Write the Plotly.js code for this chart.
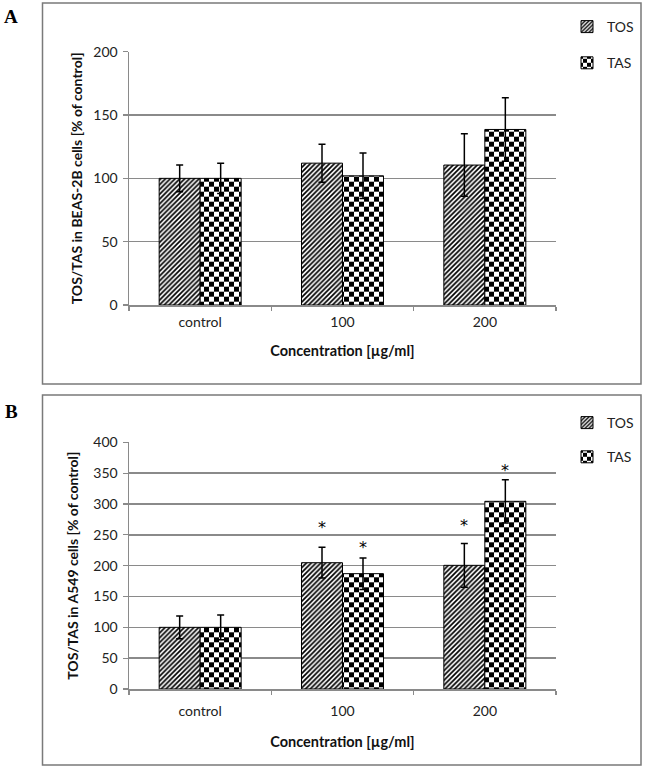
<!DOCTYPE html>
<html><head><meta charset="utf-8">
<script src="https://cdn.plot.ly/plotly-3.0.1.min.js"></script>
<style>html,body{margin:0;padding:0;background:#fff}#chart{width:646px;height:770px}</style>
</head><body><div id="chart"></div>
<script>
// ---- data ----
const categories = ['control', '100', '200'];
const seriesNames = ['TOS', 'TAS'];
// Panel A: BEAS-2B cells
const A_TOS = [100, 112, 110.5];
const A_TOS_err = [10.5, 15, 24.7];
const A_TAS = [100, 102, 138.6];
const A_TAS_err = [12, 18, 25];
// Panel B: A549 cells
const B_TOS = [100, 204.8, 200.5];
const B_TOS_err = [18.5, 25, 35.5];
const B_TAS = [100, 187, 304.3];
const B_TAS_err = [20, 25.5, 35];
// asterisk positions (value units) in panel B
const B_TOS_star = [null, 271, 275];
const B_TAS_star = [null, 238.8, 364];
const yTicksA = [0, 50, 100, 150, 200];
const yTicksB = [0, 50, 100, 150, 200, 250, 300, 350, 400];
const titleA = 'TOS/TAS in BEAS-2B cells [% of control]';
const titleB = 'TOS/TAS in A549 cells [% of control]';
const xTitle = 'Concentration [µg/ml]';

// ---- layout helpers ----
const W = 646, H = 770, ML = 129, MR = 90;
const px2x = p => (p - ML) / (W - ML - MR);
const px2y = p => 1 - p / H;
const FONT = 'Lato, "Open Sans", sans-serif';
const GRAY = '#8a8a8a';

let hasPath = false;
try { hasPath = !!Plotly.PlotSchema.get().traces.bar.attributes.marker.pattern.path; } catch (e) { hasPath = false; }
const hatch = {shape: '/', size: 3.4, solidity: 0.5, fgcolor: '#000', bgcolor: '#fff', fillmode: 'replace'};
const checker = hasPath
  ? {path: 'M0,0H5V5H0ZM5,5H10V10H5Z', size: 10, fgcolor: '#000', bgcolor: '#fff', fillmode: 'replace'}
  : {shape: '.', size: 5, solidity: 0.5, fgcolor: '#000', bgcolor: '#fff', fillmode: 'replace'};

function barTrace(name, y, err, xa, ya, pattern, legend, group) {
  return {
    type: 'bar', name: name, x: categories, y: y, xaxis: xa, yaxis: ya,
    legend: legend, legendgroup: group, hoverinfo: 'skip',
    marker: {color: '#fff', line: {color: '#000', width: 1}, pattern: pattern},
    error_y: {type: 'data', array: err, visible: true, color: '#000', thickness: 1.5, width: 3.5}
  };
}

const data = [
  barTrace(seriesNames[0], A_TOS, A_TOS_err, 'x', 'y', hatch, 'legend', 'a1'),
  barTrace(seriesNames[1], A_TAS, A_TAS_err, 'x', 'y', checker, 'legend', 'a2'),
  barTrace(seriesNames[0], B_TOS, B_TOS_err, 'x2', 'y2', hatch, 'legend2', 'b1'),
  barTrace(seriesNames[1], B_TAS, B_TAS_err, 'x2', 'y2', checker, 'legend2', 'b2')
];

function xAxis(anchor, labelStandoff, standoff) {
  return {
    domain: [0, 1], anchor: anchor, type: 'category', range: [-0.5, 2.5],
    showline: true, linecolor: GRAY, linewidth: 1.5,
    ticks: 'outside', tickson: 'boundaries', ticklen: 4, tickcolor: GRAY, tickwidth: 1.2,
    ticklabelstandoff: labelStandoff,
    showgrid: false, zeroline: false,
    tickfont: {family: FONT, size: 14, color: '#222'},
    title: {text: xTitle, standoff: standoff, font: {family: FONT, size: 14.5, weight: 700, color: '#111'}}
  };
}
function yAxis(anchor, domain, range, tickvals, title, standoff) {
  return {
    domain: domain, anchor: anchor, range: range, tickvals: tickvals,
    showline: true, linecolor: GRAY, linewidth: 1.5,
    ticks: 'outside', ticklen: 5, tickcolor: GRAY, tickwidth: 1.2,
    ticklabelstandoff: 2,
    showgrid: true, gridcolor: GRAY, gridwidth: 1.4, zeroline: false,
    tickfont: {family: FONT, size: 14, color: '#222'},
    title: {text: title, standoff: standoff, font: {family: FONT, size: 14, weight: 700, color: '#111'}}
  };
}

const annotations = [
  {xref: 'paper', yref: 'paper', x: px2x(11), y: px2y(17), text: '<b>A</b>', showarrow: false,
   xanchor: 'center', yanchor: 'middle', font: {family: '"Liberation Serif", "DejaVu Serif", serif', size: 19, color: '#000'}},
  {xref: 'paper', yref: 'paper', x: px2x(11), y: px2y(412), text: '<b>B</b>', showarrow: false,
   xanchor: 'center', yanchor: 'middle', font: {family: '"Liberation Serif", "DejaVu Serif", serif', size: 19, color: '#000'}}
];
const barHalf = 20.5;
[[B_TOS_star, -barHalf], [B_TAS_star, barHalf]].forEach(([stars, shift]) => {
  stars.forEach((v, i) => {
    if (v === null) return;
    annotations.push({xref: 'x2', yref: 'y2', x: i, y: v, text: '*', showarrow: false,
      xshift: shift, yshift: -6, xanchor: 'center', yanchor: 'middle',
      font: {family: '"DejaVu Sans", sans-serif', size: 16, color: '#000'}});
  });
});

const boxStyle = {color: '#7a7a7a', width: 1.5};
const shapes = [
  {type: 'rect', xref: 'paper', yref: 'paper', x0: px2x(42.5), x1: px2x(641), y0: px2y(384), y1: px2y(3), line: boxStyle},
  {type: 'rect', xref: 'paper', yref: 'paper', x0: px2x(42.5), x1: px2x(641), y0: px2y(765), y1: px2y(395), line: boxStyle}
];

const legendBase = {xanchor: 'left', yanchor: 'top', x: px2x(567), traceorder: 'grouped',
  font: {family: FONT, size: 14, color: '#222'}, bgcolor: 'rgba(0,0,0,0)', borderwidth: 0};

const layout = {
  width: W, height: H,
  margin: {l: ML, r: MR, t: 0, b: 0},
  paper_bgcolor: '#fff', plot_bgcolor: '#fff',
  barmode: 'group', bargap: 0.424, bargroupgap: 0,
  showlegend: true,
  xaxis: xAxis('y', 4, 16),
  yaxis: yAxis('x', [px2y(305), px2y(51.7)], [0, 200], yTicksA, titleA, 7),
  xaxis2: xAxis('y2', 9, 18),
  yaxis2: yAxis('x2', [px2y(689), px2y(442.3)], [0, 400], yTicksB, titleB, 11),
  legend: Object.assign({}, legendBase, {y: px2y(11), tracegroupgap: 15}),
  legend2: Object.assign({}, legendBase, {y: px2y(407), tracegroupgap: 13}),
  annotations: annotations,
  shapes: shapes
};

Plotly.newPlot('chart', data, layout, {staticPlot: true, displayModeBar: false});
</script>
</body></html>
